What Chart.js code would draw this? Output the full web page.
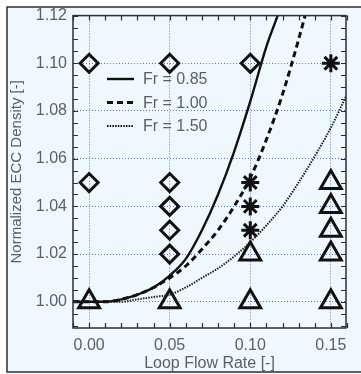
<!DOCTYPE html>
<html>
<head>
<meta charset="utf-8">
<script src="https://cdn.jsdelivr.net/npm/chart.js@4/dist/chart.umd.min.js"></script>
<style>
  html, body { margin: 0; padding: 0; background: #ffffff; }
  #wrap { width: 361px; height: 374px; position: relative; }
</style>
</head>
<body>
<div id="wrap"><canvas id="c"></canvas></div>
<script>
// curve values: [loop flow rate, normalized density]
const fr085 = [[-0.01, 1.000], [0.00, 1.000], [0.01, 1.000], [0.02, 1.001], [0.03, 1.003], [0.04, 1.006],
  [0.05, 1.011], [0.06, 1.018], [0.07, 1.030], [0.08, 1.045], [0.09, 1.063], [0.10, 1.084], [0.11, 1.107], [0.117, 1.12]]
const fr100 = [[-0.01, 1.000], [0.00, 1.000], [0.01, 1.000], [0.02, 1.001], [0.03, 1.003], [0.04, 1.006],
  [0.05, 1.010], [0.06, 1.015], [0.07, 1.022], [0.08, 1.030], [0.09, 1.040], [0.10, 1.052], [0.11, 1.068],
  [0.12, 1.087], [0.13, 1.110], [0.134, 1.12]]
const fr150 = [[-0.01, 1.000], [0.02, 1.000], [0.03, 1.001], [0.04, 1.002], [0.05, 1.003], [0.06, 1.006],
  [0.07, 1.010], [0.08, 1.014], [0.09, 1.019], [0.10, 1.025], [0.11, 1.032], [0.12, 1.040], [0.13, 1.050],
  [0.14, 1.061], [0.15, 1.073], [0.16, 1.087]]

// measured points by marker type
const diamonds = [[0.00, 1.10], [0.00, 1.05], [0.05, 1.10], [0.05, 1.05], [0.05, 1.04], [0.05, 1.03], [0.05, 1.02], [0.10, 1.10]]
const stars = [[0.10, 1.05], [0.10, 1.04], [0.10, 1.03], [0.15, 1.10]]
const triangles = [[0.00, 1.00], [0.05, 1.00], [0.10, 1.02], [0.10, 1.00], [0.15, 1.05], [0.15, 1.04],
  [0.15, 1.03], [0.15, 1.02], [0.15, 1.00]]

const legendLabels = ['Fr = 0.85', 'Fr = 1.00', 'Fr = 1.50']
const xTicks = [0.00, 0.05, 0.10, 0.15]
const yTicks = [1.00, 1.02, 1.04, 1.06, 1.08, 1.10, 1.12]
const xMinor = []
for (let i = -1; i <= 16; i++) xMinor.push(i / 100)
const yMinor = []
for (let i = 198; i <= 224; i++) yMinor.push(i / 200)

const pts = arr => arr.map(p => ({ x: p[0], y: p[1] }))
const FONT = 'Liberation Sans, Arial, sans-serif'
const TEXT = '#5a6066'
const BG = '#eef8fd'
const GRID = '#5f78c8'

const lineStyles = [
  { width: 2.4, dash: [] },
  { width: 3, dash: [6, 4] },
  { width: 2, dash: [1.5, 1.2] }
]

const decor = {
  id: 'decor',
  beforeDraw(chart) {
    const ctx = chart.ctx
    ctx.save()
    ctx.fillStyle = '#ffffff'
    ctx.fillRect(0, 0, chart.width, chart.height)
    ctx.fillStyle = BG
    ctx.fillRect(7, 7, chart.width - 7, chart.height - 9)
    ctx.strokeStyle = '#2b2f33'
    ctx.lineWidth = 1.5
    ctx.beginPath()
    ctx.moveTo(chart.width + 2, 7)
    ctx.lineTo(7, 7)
    ctx.lineTo(7, chart.height - 2)
    ctx.lineTo(chart.width + 2, chart.height - 2)
    ctx.stroke()
    ctx.restore()
  },
  afterDraw(chart) {
    const ctx = chart.ctx
    const a = chart.chartArea
    const xs = chart.scales.x
    const ys = chart.scales.y
    ctx.save()
    ctx.strokeStyle = '#2b2f33'
    ctx.lineWidth = 1.2
    ctx.beginPath()
    xMinor.forEach(v => {
      const px = Math.round(xs.getPixelForValue(v)) + 0.5
      ctx.moveTo(px, a.bottom); ctx.lineTo(px, a.bottom - 5)
      ctx.moveTo(px, a.top); ctx.lineTo(px, a.top + 5)
    })
    yMinor.forEach(v => {
      const py = Math.round(ys.getPixelForValue(v)) + 0.5
      ctx.moveTo(a.left, py); ctx.lineTo(a.left + 5, py)
      ctx.moveTo(a.right, py); ctx.lineTo(a.right - 5, py)
    })
    ctx.stroke()
    // frame
    ctx.lineWidth = 1.5
    ctx.strokeRect(a.left, a.top, a.right - a.left, a.bottom - a.top)

    // legend
    ctx.font = '16px ' + FONT
    ctx.textBaseline = 'middle'
    ctx.fillStyle = TEXT
    legendLabels.forEach((t, i) => {
      const y = 79 + i * 23.5
      const s = lineStyles[i]
      ctx.strokeStyle = '#111'
      ctx.lineWidth = s.width
      ctx.setLineDash(s.dash)
      ctx.beginPath()
      ctx.moveTo(107, y); ctx.lineTo(134, y)
      ctx.stroke()
      ctx.setLineDash([])
      ctx.fillText(t, 143, y + 1)
    })
    ctx.restore()
  }
}

const curve = (data, i, color) => ({
  type: 'line',
  data: pts(data),
  borderColor: color,
  borderWidth: lineStyles[i].width,
  borderDash: lineStyles[i].dash,
  pointRadius: 0,
  cubicInterpolationMode: 'monotone',
  fill: false
})

const marker = (data, style, r) => ({
  type: 'scatter',
  data: pts(data),
  pointStyle: style,
  pointRadius: r,
  pointBorderWidth: 3,
  pointBorderColor: '#111',
  pointBackgroundColor: 'rgba(0,0,0,0)',
  clip: false
})

new Chart(document.getElementById('c'), {
  type: 'scatter',
  data: {
    datasets: [
      curve(fr085, 0, '#111'),
      curve(fr100, 1, '#111'),
      curve(fr150, 2, '#222'),
      marker(diamonds, 'rectRot', 9),
      marker(stars, 'star', 9),
      marker(triangles, 'triangle', 12)
    ]
  },
  options: {
    responsive: true,
    maintainAspectRatio: false,
    animation: false,
    devicePixelRatio: 1,
    layout: { padding: { left: 8, top: 11, right: 0, bottom: 0 } },
    plugins: { legend: { display: false }, tooltip: { enabled: false } },
    scales: {
      x: {
        type: 'linear',
        min: -0.01,
        max: 0.1594,
        afterBuildTicks: s => { s.ticks = xTicks.map(v => ({ value: v })) },
        afterFit: s => { s.height = 46 },
        grid: { color: GRID, lineWidth: 1, drawTicks: false },
        border: { display: true, color: 'rgba(0,0,0,0)', dash: [1, 2] },
        ticks: { padding: 8, color: TEXT, font: { family: FONT, size: 16 }, maxRotation: 0,
          callback: v => v.toFixed(2) },
        title: { display: true, text: 'Loop Flow Rate [-]', color: TEXT, padding: { top: 0, bottom: 1 },
          font: { family: FONT, size: 16 } }
      },
      y: {
        type: 'linear',
        min: 0.989,
        max: 1.12,
        afterBuildTicks: s => { s.ticks = yTicks.map(v => ({ value: v })) },
        afterFit: s => { s.width = 65 },
        grid: { color: GRID, lineWidth: 1, drawTicks: false },
        border: { display: true, color: 'rgba(0,0,0,0)', dash: [1, 2] },
        ticks: { padding: 6, color: TEXT, font: { family: FONT, size: 16 },
          callback: v => v.toFixed(2) },
        title: { display: true, text: 'Normalized ECC Density [-]', color: TEXT, padding: { top: 0, bottom: 0 },
          font: { family: FONT, size: 15 } }
      }
    }
  },
  plugins: [decor]
})
</script>
</body>
</html>
